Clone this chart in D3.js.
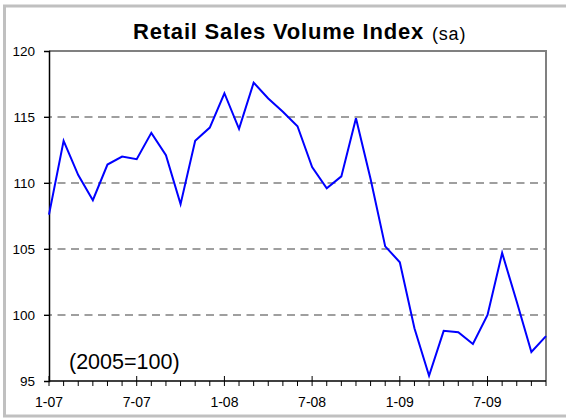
<!DOCTYPE html>
<html>
<head>
<meta charset="utf-8">
<script src="https://cdn.jsdelivr.net/npm/d3@7"></script>
<style>
  html, body { margin: 0; padding: 0; background: #fff; }
  svg { display: block; font-family: "Liberation Sans", Arial, sans-serif; }
</style>
</head>
<body>
<svg id="chart" width="566" height="418"></svg>
<script>
// Monthly categories, Jan 2007 – Nov 2009
const months = [
  "1-07","2-07","3-07","4-07","5-07","6-07","7-07","8-07","9-07","10-07","11-07","12-07",
  "1-08","2-08","3-08","4-08","5-08","6-08","7-08","8-08","9-08","10-08","11-08","12-08",
  "1-09","2-09","3-09","4-09","5-09","6-09","7-09","8-09","9-09","10-09","11-09"
];
// Retail sales volume index, seasonally adjusted (2005=100)
const salesIndex = [
  107.6, 113.2, 110.6, 108.7, 111.4, 112.0, 111.8, 113.8, 112.1, 108.4, 113.2, 114.2,
  116.8, 114.1, 117.6, 116.4, 115.4, 114.3, 111.2, 109.6, 110.5, 114.9, 110.3, 105.2,
  104.0, 99.0, 95.4, 98.8, 98.7, 97.8, 100.0, 104.7, 101.0, 97.2, 98.4
];
const yTicks = [95, 100, 105, 110, 115, 120];
const xTickLabels = ["1-07", "7-07", "1-08", "7-08", "1-09", "7-09"];

const svg = d3.select("#chart");
const m = { left: 49, right: 546, top: 51, bottom: 381 };

const x = d3.scalePoint().domain(months).range([m.left, m.right]);
const y = d3.scaleLinear().domain([95, 120]).range([m.bottom, m.top]);

// outer chart frame
svg.append("rect")
  .attr("x", 4.5).attr("y", 6).attr("width", 580).attr("height", 410)
  .attr("fill", "none").attr("stroke", "#c0c0c0").attr("stroke-width", 3);

// title
svg.append("text")
  .attr("x", 133).attr("y", 39)
  .attr("font-size", 22).attr("font-weight", "bold").attr("letter-spacing", 0.8)
  .text("Retail Sales Volume Index");
svg.append("text")
  .attr("x", 432).attr("y", 39.5)
  .attr("font-size", 18).attr("letter-spacing", 0.8)
  .text("(sa)");

// dashed gridlines
svg.append("g").selectAll("line")
  .data(yTicks.filter(d => d > 95 && d < 120))
  .join("line")
  .attr("x1", m.left - 5).attr("x2", m.right)
  .attr("y1", d => y(d)).attr("y2", d => y(d))
  .attr("stroke", "#808080").attr("stroke-width", 1.6)
  .attr("stroke-dasharray", "8,5.5");

// plot top and right border
svg.append("path")
  .attr("d", `M${m.left},${m.top}H${m.right}V${m.bottom}`)
  .attr("fill", "none").attr("stroke", "#808080").attr("stroke-width", 2);

// y axis
const yAxis = svg.append("g")
  .attr("transform", `translate(${m.left},0)`)
  .call(d3.axisLeft(y).tickValues(yTicks).tickSize(5).tickPadding(9).tickFormat(d3.format("d")));
yAxis.select(".domain").attr("stroke", "#000").attr("stroke-width", 1.5);
yAxis.selectAll(".tick line").attr("stroke", "#000");
yAxis.selectAll("text").attr("font-size", 13.5).attr("fill", "#000")
  .attr("font-family", "'Liberation Sans', Arial, sans-serif");

// x axis: monthly minor ticks, half-year major ticks crossing the axis
const xAxis = svg.append("g").attr("transform", `translate(0,${m.bottom})`);
xAxis.append("line")
  .attr("x1", m.left).attr("x2", m.right)
  .attr("stroke", "#000").attr("stroke-width", 1.5);
xAxis.selectAll("line.tick")
  .data(months)
  .join("line").attr("class", "tick")
  .attr("x1", d => x(d)).attr("x2", d => x(d))
  .attr("y1", d => xTickLabels.includes(d) ? -5 : 0)
  .attr("y2", 5)
  .attr("stroke", "#000").attr("stroke-width", 1);
xAxis.selectAll("text")
  .data(xTickLabels)
  .join("text")
  .attr("x", d => x(d)).attr("y", 26)
  .attr("text-anchor", "middle").attr("font-size", 14).attr("fill", "#000")
  .text(d => d);

// data line
svg.append("path")
  .datum(salesIndex)
  .attr("fill", "none").attr("stroke", "#0000ff").attr("stroke-width", 2)
  .attr("stroke-linejoin", "miter")
  .attr("d", d3.line().x((d, i) => x(months[i])).y(d => y(d)));

// base-year note
svg.append("text")
  .attr("x", 69).attr("y", 369)
  .attr("font-size", 21.5).attr("fill", "#000")
  .text("(2005=100)");
</script>
</body>
</html>
